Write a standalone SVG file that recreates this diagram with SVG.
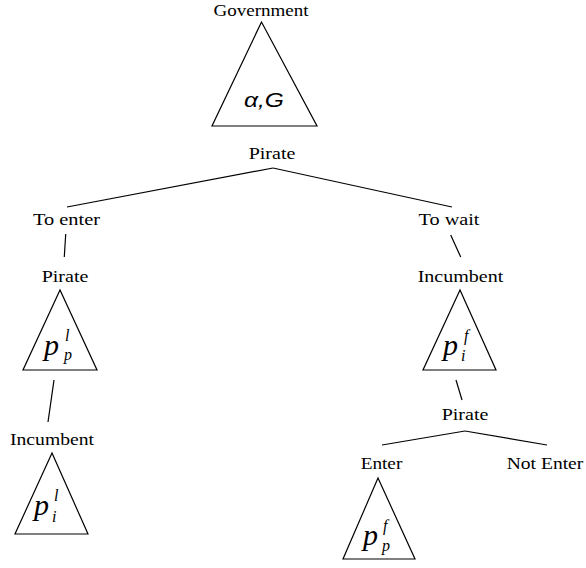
<svg xmlns="http://www.w3.org/2000/svg" width="586" height="568" viewBox="0 0 586 568">
<style>
.lbl{font-family:"Liberation Serif","Times New Roman",serif;font-size:17px;fill:#000;text-anchor:middle}
.tri{fill:#fff;stroke:#000;stroke-width:1.2}
.edge{stroke:#000;stroke-width:1.2;fill:none}
.m{font-family:"Liberation Serif","Times New Roman",serif;font-style:italic;fill:#000}
.big{font-size:30px}
.sm{font-size:16px}
.sans{font-family:"Liberation Sans",Arial,sans-serif;font-style:italic;font-size:20px;fill:#000}
</style>
<rect width="586" height="568" fill="#fff"/>
<g id="connectors">
<line class="edge" x1="273" y1="168" x2="67" y2="207"/>
<line class="edge" x1="273" y1="168" x2="452" y2="207"/>
<line class="edge" x1="65.7" y1="234" x2="64.3" y2="257"/>
<line class="edge" x1="54" y1="380" x2="48" y2="422"/>
<line class="edge" x1="450.7" y1="235" x2="460.7" y2="257"/>
<line class="edge" x1="456" y1="380" x2="462" y2="400"/>
<line class="edge" x1="465" y1="431" x2="382" y2="445"/>
<line class="edge" x1="465" y1="431" x2="547" y2="445"/>
</g>
<g id="government">
<text class="lbl" x="261" y="16" textLength="95" lengthAdjust="spacingAndGlyphs">Government</text>
<polygon class="tri" points="261.5,22 212,126 317,126"/>
<text class="sans" x="244" y="106.5" textLength="40" lengthAdjust="spacingAndGlyphs">α,G</text>
</g>
<g id="pirate-root">
<text class="lbl" x="272" y="159" textLength="46.7" lengthAdjust="spacingAndGlyphs">Pirate</text>
</g>
<g id="to-enter">
<text class="lbl" x="66.5" y="225" textLength="67" lengthAdjust="spacingAndGlyphs">To enter</text>
</g>
<g id="to-wait">
<text class="lbl" x="449" y="225" textLength="61" lengthAdjust="spacingAndGlyphs">To wait</text>
</g>
<g id="pirate-left">
<text class="lbl" x="65" y="282" textLength="46.7" lengthAdjust="spacingAndGlyphs">Pirate</text>
<polygon class="tri" points="60,290 23,370 97,370"/>
<text class="m big" x="44" y="355">p</text>
<text class="m sm" x="65" y="341">l</text>
<text class="m sm" x="64" y="360">p</text>
</g>
<g id="incumbent-left">
<text class="lbl" x="52" y="445" textLength="84" lengthAdjust="spacingAndGlyphs">Incumbent</text>
<polygon class="tri" points="52,453 15,534 88,534"/>
<text class="m big" x="34" y="515">p</text>
<text class="m sm" x="54" y="501">l</text>
<text class="m sm" x="52" y="522">i</text>
</g>
<g id="incumbent-right">
<text class="lbl" x="460.5" y="282" textLength="85.7" lengthAdjust="spacingAndGlyphs">Incumbent</text>
<polygon class="tri" points="460,290 423,370 496,370"/>
<text class="m big" x="443" y="355">p</text>
<text class="m sm" x="464" y="341">f</text>
<text class="m sm" x="461" y="361">i</text>
</g>
<g id="pirate-right">
<text class="lbl" x="465" y="420" textLength="46.7" lengthAdjust="spacingAndGlyphs">Pirate</text>
</g>
<g id="enter">
<text class="lbl" x="381.5" y="469.3" textLength="41.7" lengthAdjust="spacingAndGlyphs">Enter</text>
<polygon class="tri" points="378,478 343,559 415,559"/>
<text class="m big" x="363" y="545">p</text>
<text class="m sm" x="383" y="531">f</text>
<text class="m sm" x="382" y="551">p</text>
</g>
<g id="not-enter">
<text class="lbl" x="545" y="469.3" textLength="76.7" lengthAdjust="spacingAndGlyphs">Not Enter</text>
</g>
</svg>
